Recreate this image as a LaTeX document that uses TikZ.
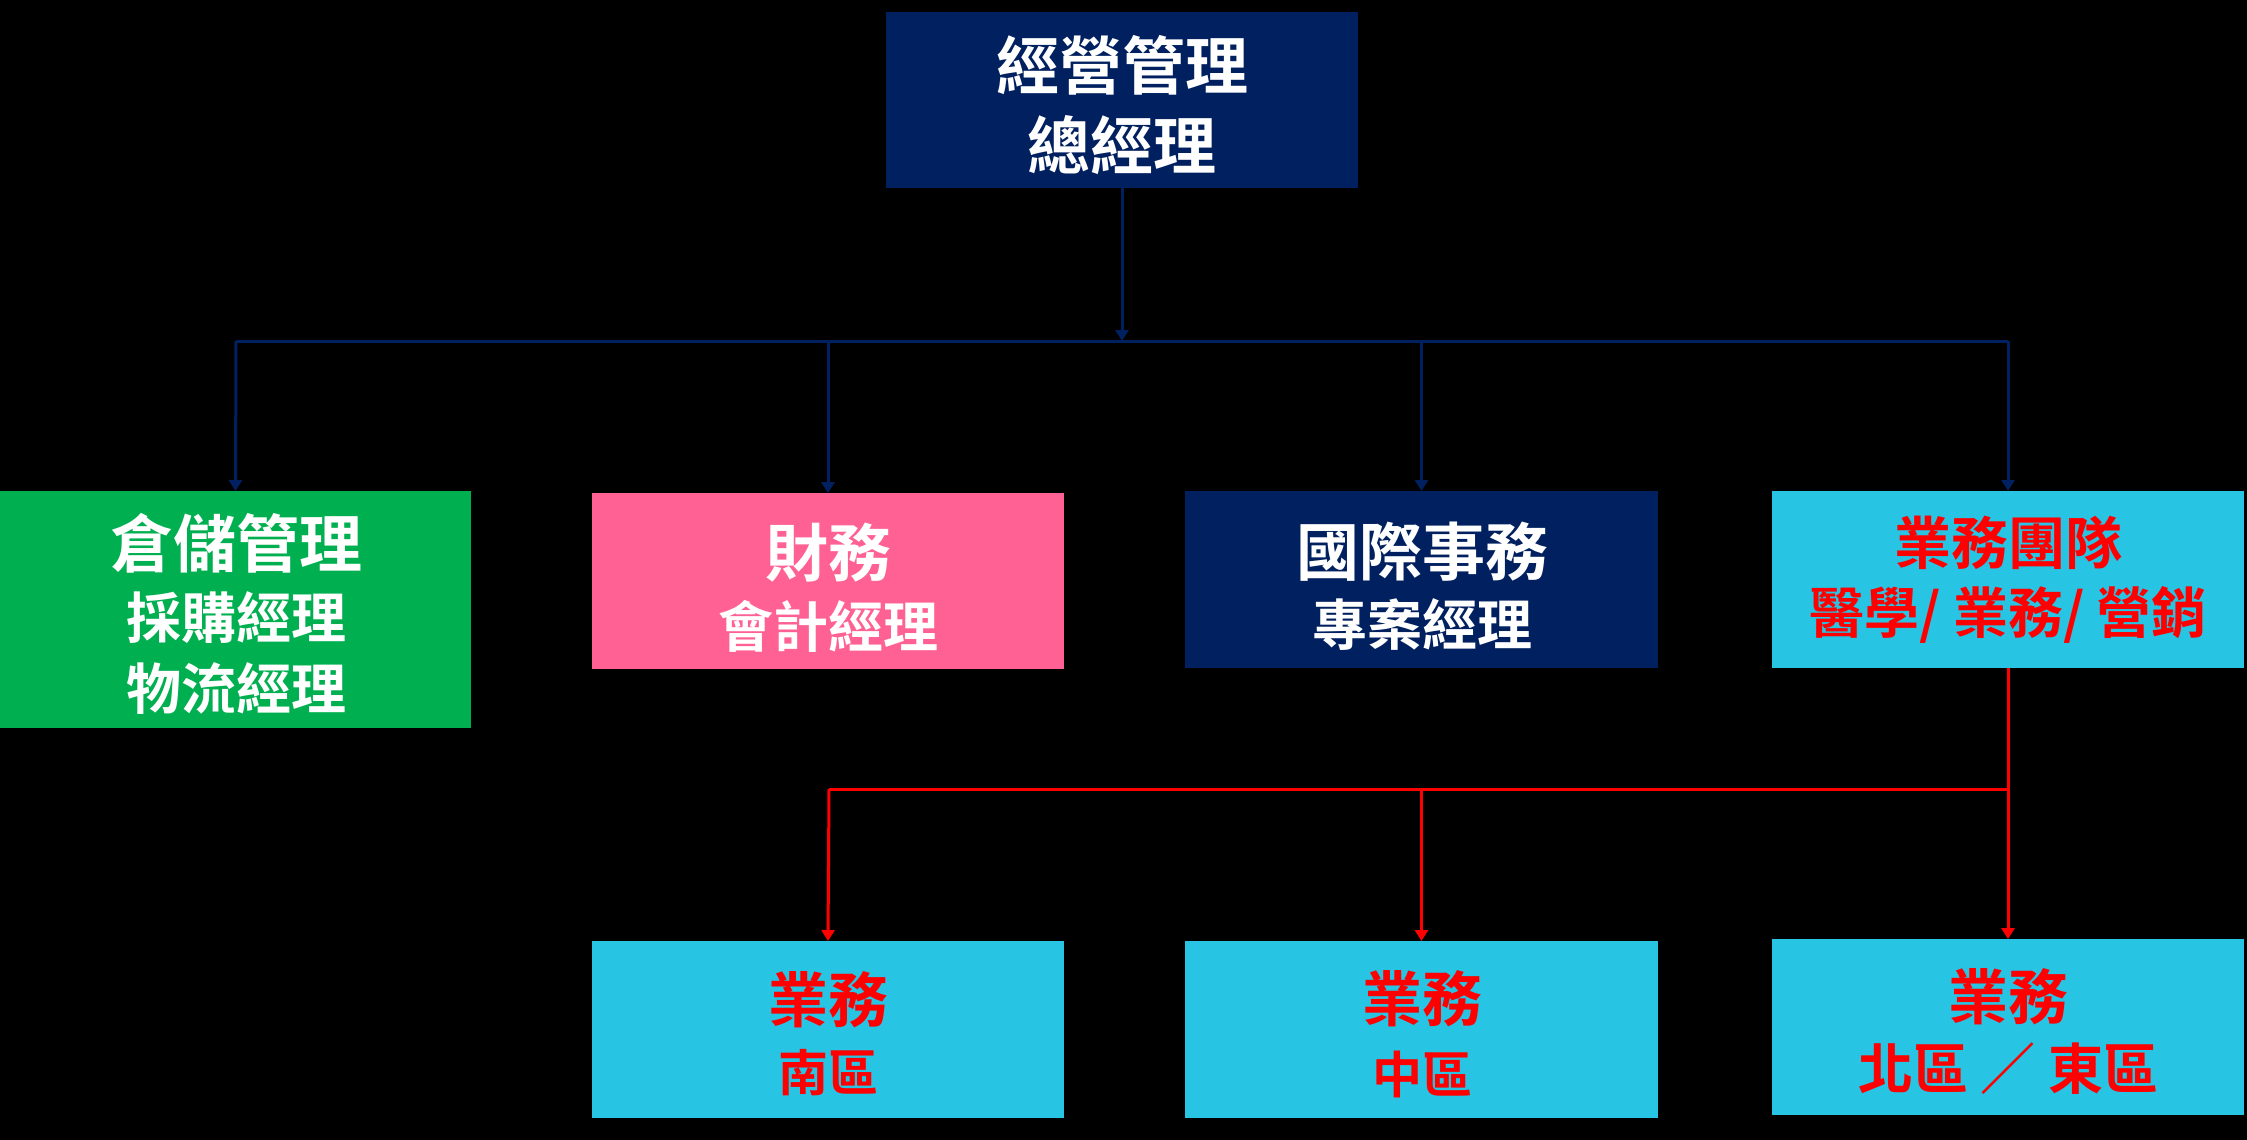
\documentclass[tikz,border=0pt]{standalone}
\usepackage{fontspec}
\newfontfamily\cjk{Noto Sans CJK TC}[BoldFont=Noto Sans CJK TC Bold]
\usetikzlibrary{arrows.meta}
\definecolor{navy}{HTML}{002060}
\definecolor{boxgreen}{HTML}{00B050}
\definecolor{boxpink}{HTML}{FF6194}
\definecolor{boxcyan}{HTML}{27C4E4}
\definecolor{txtred}{HTML}{FF0000}
\begin{document}
\begin{tikzpicture}[x=1pt,y=-1pt,
  box/.style={anchor=north west,inner sep=0pt,outer sep=0pt},
  txt/.style={inner sep=0pt,outer sep=0pt,anchor=center,font=\cjk\bfseries},
  wt/.style={txt,text=white},
  rt/.style={txt,text=txtred},
  f63/.style={font=\cjk\bfseries\fontsize{63}{70}\selectfont},
  f60/.style={font=\cjk\bfseries\fontsize{60}{66}\selectfont},
  f57/.style={font=\cjk\bfseries\fontsize{57}{64}\selectfont},
  f55/.style={font=\cjk\bfseries\fontsize{55}{62}\selectfont},
  f50/.style={font=\cjk\bfseries\fontsize{50}{58}\selectfont},
  navline/.style={draw=navy,line width=3pt},
  redline/.style={draw=txtred,line width=3pt},
  tip/.style={-{Triangle[width=13pt,length=11pt]}}]
\fill[black] (0,0) rectangle (2247,1140);
\useasboundingbox (0,0) rectangle (2247,1140);
% boxes
\node[box,fill=navy,minimum width=472pt,minimum height=176pt] (top) at (886,12) {};
\node[box,fill=boxgreen,minimum width=471pt,minimum height=237pt] (wh) at (0,491) {};
\node[box,fill=boxpink,minimum width=472pt,minimum height=176pt] (fin) at (592,493) {};
\node[box,fill=navy,minimum width=473pt,minimum height=177pt] (intl) at (1185,491) {};
\node[box,fill=boxcyan,minimum width=472pt,minimum height=177pt] (sales) at (1772,491) {};
\node[box,fill=boxcyan,minimum width=472pt,minimum height=177pt] (south) at (592,941) {};
\node[box,fill=boxcyan,minimum width=473pt,minimum height=177pt] (mid) at (1185,941) {};
\node[box,fill=boxcyan,minimum width=472pt,minimum height=176pt] (north) at (1772,939) {};
% texts
\node[wt,f63] (t1) at (1122,65) {經營管理};
\node[wt,f63] (t2) at (1122,145) {總經理};
\node[wt,f63] (w1) at (236,543) {倉儲管理};
\node[wt,f55] (w2) at (236,618) {採購經理};
\node[wt,f55] (w3) at (236,688) {物流經理};
\node[wt,f63] (p1) at (828,553) {財務};
\node[wt,f55] (p2) at (828,626) {會計經理};
\node[wt,f63] (i1) at (1422,552) {國際事務};
\node[wt,f55] (i2) at (1422,625) {專案經理};
\node[rt,f57] (s1) at (2008,543) {業務團隊};
\node[rt,f55] (s2) at (2008,615) {醫學/ 業務/ 營銷};
\node[rt,f60] (b1) at (828,1000) {業務};
\node[rt,f50] (b2) at (828,1073) {南區};
\node[rt,f60] (m1) at (1422,999) {業務};
\node[rt,f50] (m2) at (1422,1074) {中區};
\node[rt,f60] (n1) at (2008,997) {業務};
\node[rt,f55] (n2) at (2008,1069) {北區 ／ 東區};
% navy connectors
\coordinate (hub) at (1122,341);
\coordinate (hl) at (236,341);
\coordinate (hr) at (2008,341);
\draw[navline,tip] (top.south) -- (hub);
\draw[navline] (hl) -- (hr);
\draw[navline,tip] (hl) -- (wh.north);
\draw[navline,tip] (hub -| fin.north) -- (fin.north);
\draw[navline,tip] (hub -| intl.north) -- (intl.north);
\draw[navline,tip] (hr) -- (sales.north);
% red connectors
\coordinate (rj) at (2008,789);
\coordinate (rl) at (829,789);
\draw[redline,tip] (sales.south) -- (north.north);
\draw[redline] (rl) -- (rj);
\draw[redline,tip] (rl) -- (south.north);
\draw[redline,tip] (rj -| mid.north) -- (mid.north);
\end{tikzpicture}
\end{document}
